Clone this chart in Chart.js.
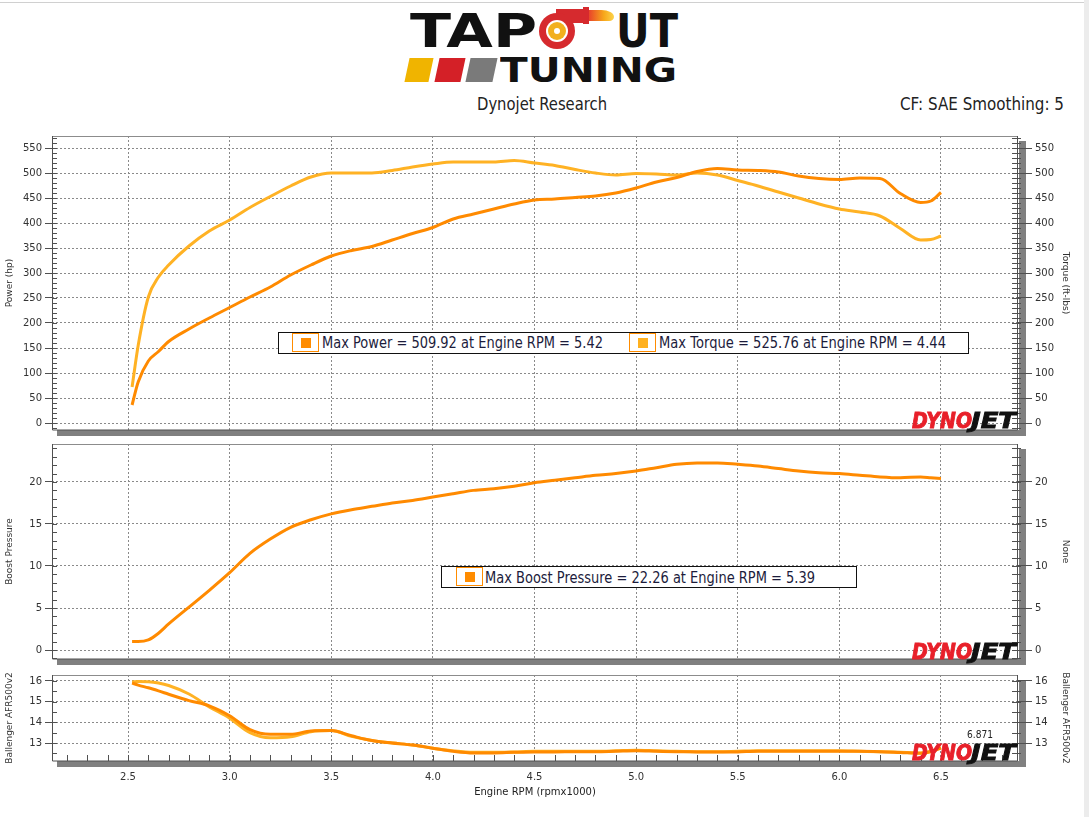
<!DOCTYPE html>
<html>
<head>
<meta charset="utf-8">
<title>Dynojet Research</title>
<script src="https://cdn.jsdelivr.net/npm/chart.js@4.4.1/dist/chart.umd.min.js"></script>
<style>
  body { margin: 0; background: #fff; width: 1089px; height: 817px; overflow: hidden; position: relative; font-family: "DejaVu Sans", sans-serif; }
  .a { position: absolute; white-space: nowrap; line-height: 1; transform-origin: 0 0; }
  .d { position: absolute; }
  canvas { position: absolute; left: 0; }
  .logo { font-weight: bold; color: #111; }
  .dj { font-weight: bold; font-style: italic; font-size: 21px; -webkit-text-stroke: 0.9px currentColor; }
  .box { position: absolute; border: 1px solid #111; background: #fff; box-sizing: border-box; }
  .sw { position: absolute; border: 1px solid #ff8c00; box-sizing: border-box; }
  .lt { font-size: 15px; color: #1c1c3c; }
</style>
</head>
<body>
<div class="d" style="left:0;top:2px;width:1089px;height:1px;background:#d0d0d0"></div>
<div class="d" style="left:1084px;top:0;width:5px;height:817px;background:#ececec"></div>

<!-- logo -->
<div class="a logo" data-w="127" style="left:410px;top:7px;font-size:47px">TAP</div>
<div class="d" style="left:556px;top:9px;width:30px;height:14px;background:#d62a2e"></div>
<div class="d" style="left:583px;top:7px;width:6px;height:17px;background:#d62a2e"></div>
<div class="d" style="left:589px;top:10px;width:25px;height:11px;background:linear-gradient(to right,#e9452a,#f7a81b 60%,#fcd34a);border-radius:0 80% 30% 0 / 0 100% 60% 0"></div>
<div class="d" style="left:539px;top:13px;width:36px;height:36px;border-radius:50%;background:#d62a2e"></div>
<div class="d" style="left:546px;top:20px;width:22px;height:22px;border-radius:50%;background:#fff"></div>
<div class="d" style="left:548px;top:22px;width:18px;height:18px;border-radius:50%;background:#f2b01e"></div>
<div class="d" style="left:554px;top:28px;width:6px;height:6px;border-radius:50%;background:#fff"></div>
<div class="a logo" data-w="62" style="left:616px;top:7px;font-size:47px">UT</div>
<div class="d" style="left:407px;top:58px;width:24px;height:24px;background:#f0b400;transform:skewX(-12deg)"></div>
<div class="d" style="left:437px;top:58px;width:26px;height:24px;background:#d42027;transform:skewX(-12deg)"></div>
<div class="d" style="left:468px;top:58px;width:27px;height:24px;background:#7a7a7a;transform:skewX(-12deg)"></div>
<div class="a logo" data-w="177" style="left:500px;top:54px;font-size:33px">TUNING</div>

<div class="a" data-w="130" style="left:477px;top:96px;font-size:17px;color:#222">Dynojet Research</div>
<div class="a" data-w="164" style="left:900px;top:96px;font-size:17px;color:#222">CF: SAE Smoothing: 5</div>

<canvas id="c1" width="1089" height="320" style="top:120px"></canvas>
<canvas id="c2" width="1089" height="225" style="top:440px"></canvas>
<canvas id="c3" width="1089" height="152" style="top:665px"></canvas>

<!-- legends -->
<div class="box" style="left:278px;top:332px;width:691px;height:22px"></div>
<div class="sw" style="left:292px;top:333px;width:27px;height:19px"><div class="d" style="left:8px;top:4px;width:10px;height:10px;background:#ff8c00"></div></div>
<div class="a lt" data-w="281" style="left:322px;top:336px">Max Power = 509.92 at Engine RPM = 5.42</div>
<div class="sw" style="left:629px;top:333px;width:27px;height:19px"><div class="d" style="left:8px;top:4px;width:10px;height:10px;background:#ffb11f"></div></div>
<div class="a lt" data-w="287" style="left:659px;top:336px">Max Torque = 525.76 at Engine RPM = 4.44</div>

<div class="box" style="left:441px;top:566px;width:416px;height:22px"></div>
<div class="sw" style="left:456px;top:567px;width:27px;height:19px"><div class="d" style="left:8px;top:4px;width:10px;height:10px;background:#ff8c00"></div></div>
<div class="a lt" data-w="330" style="left:485px;top:571px">Max Boost Pressure = 22.26 at Engine RPM = 5.39</div>

<!-- dynojet marks -->
<div class="a dj" data-w="60" style="left:912px;top:411px;color:#e8202a">DYNO</div>
<div class="a dj" data-w="45" style="left:971px;top:411px;color:#111">JET</div>
<div class="a dj" data-w="60" style="left:912px;top:642px;color:#e8202a">DYNO</div>
<div class="a dj" data-w="45" style="left:971px;top:642px;color:#111">JET</div>
<div class="a dj" data-w="60" style="left:912px;top:743px;color:#e8202a">DYNO</div>
<div class="a dj" data-w="45" style="left:971px;top:743px;color:#111">JET</div>

<div class="a" data-w="26" style="left:967px;top:729px;font-size:11px;color:#222">6.871</div>

<script>
// engine rpm (x1000), shared by all traces
const rpm = [2.52, 2.55, 2.6, 2.65, 2.7, 2.8, 2.9, 3.0, 3.1, 3.2, 3.3, 3.4, 3.5, 3.6, 3.7, 3.8, 3.9, 4.0, 4.1, 4.2, 4.3, 4.4,
             4.5, 4.6, 4.7, 4.8, 4.9, 5.0, 5.1, 5.2, 5.3, 5.4, 5.5, 5.6, 5.7, 5.8, 5.9, 6.0, 6.1, 6.2, 6.3, 6.4, 6.45, 6.5];
const powerHp = [36, 82, 124, 143, 163, 188, 210, 231, 252, 272, 296, 316, 334, 345, 353, 366, 379, 391, 408, 418, 428, 438,
                 446, 448, 451, 454, 460, 470, 482, 491, 503, 509, 506, 505, 502, 494, 489, 487, 490, 489, 459, 441, 444, 461];
const torqueFtLbs = [72, 155, 252, 292, 316, 354, 384, 406, 431, 453, 474, 492, 500, 500, 500, 505, 512, 518, 522, 522, 522, 525,
                     520, 515, 507, 500, 496, 499, 498, 496, 500, 496, 485, 474, 462, 450, 438, 428, 422, 414, 389, 366, 367, 374];
const boostPsi = [1.0, 1.0, 1.2, 2.0, 3.1, 5.1, 7.1, 9.2, 11.5, 13.2, 14.6, 15.5, 16.2, 16.7, 17.1, 17.5, 17.8, 18.2, 18.6, 19.0, 19.2, 19.5,
                  19.9, 20.2, 20.5, 20.8, 21.0, 21.3, 21.7, 22.1, 22.25, 22.26, 22.1, 21.9, 21.6, 21.3, 21.1, 21.0, 20.8, 20.6, 20.5, 20.6, 20.5, 20.4];
const afrA = [15.9, 15.8, 15.67, 15.52, 15.36, 15.05, 14.8, 14.32, 13.65, 13.42, 13.42, 13.58, 13.6, 13.35, 13.12, 13.0, 12.9, 12.75, 12.6, 12.52, 12.52, 12.55,
              12.57, 12.57, 12.58, 12.58, 12.6, 12.62, 12.6, 12.58, 12.57, 12.56, 12.57, 12.6, 12.6, 12.6, 12.6, 12.6, 12.6, 12.58, 12.54, 12.5, 12.58, 12.75];
const afrB = [15.95, 15.97, 15.96, 15.9, 15.78, 15.37, 14.75, 14.2, 13.5, 13.25, 13.3, 13.55, 13.6, 13.32, 13.12, 13.0, 12.9, 12.75, 12.62, 12.55, 12.55, 12.57,
              12.6, 12.6, 12.6, 12.6, 12.62, 12.65, 12.62, 12.6, 12.58, 12.58, 12.6, 12.62, 12.62, 12.62, 12.62, 12.62, 12.6, 12.58, 12.55, 12.52, 12.6, 12.78];

const rpmTicks = [2.5, 3.0, 3.5, 4.0, 4.5, 5.0, 5.5, 6.0, 6.5];
const powerTicks = [0, 50, 100, 150, 200, 250, 300, 350, 400, 450, 500, 550];
const boostTicks = [0, 5, 10, 15, 20];
const afrTicks = [13, 14, 15, 16];

const DARK = '#ff8a00';
const LIGHT = '#ffb224';
const FONT = 'DejaVu Sans';

const panelFrame = {
  id: 'panelFrame',
  beforeDraw(chart) {
    const { ctx, chartArea: a } = chart;
    ctx.save();
    ctx.fillStyle = '#808080';
    ctx.fillRect(a.left + 5, a.bottom, a.right - a.left + 3, 6);
    ctx.fillRect(a.right + 1, a.top + 5, 7, a.bottom - a.top);
    ctx.restore();
  },
  beforeDatasetsDraw(chart, args, opts) {
    const { ctx, chartArea: a, scales } = chart;
    ctx.save();
    ctx.lineWidth = 1;
    ctx.strokeStyle = '#8c8c8c';
    ctx.beginPath();
    ctx.moveTo(a.left, a.top + 0.5); ctx.lineTo(a.right, a.top + 0.5);
    ctx.stroke();
    ctx.strokeStyle = '#505050';
    ctx.beginPath();
    ctx.moveTo(a.left + 0.5, a.top); ctx.lineTo(a.left + 0.5, a.bottom);
    ctx.lineTo(a.right - 0.5, a.bottom); ctx.lineTo(a.right - 0.5, a.top);
    const ys = scales.y;
    for (let n = Math.ceil(ys.min / opts.yStep); n <= Math.floor(ys.max / opts.yStep); n++) {
      const p = Math.round(ys.getPixelForValue(n * opts.yStep)) + 0.5;
      ctx.moveTo(a.left, p); ctx.lineTo(a.left + 5, p);
      ctx.moveTo(a.right - 6, p); ctx.lineTo(a.right + 3, p);
    }
    if (opts.xStep) {
      const xs = scales.x;
      for (let n = Math.ceil(xs.min / opts.xStep); n <= Math.floor(xs.max / opts.xStep); n++) {
        const p = Math.round(xs.getPixelForValue(n * opts.xStep)) + 0.5;
        ctx.moveTo(p, a.bottom); ctx.lineTo(p, a.bottom - 6);
      }
    }
    ctx.stroke();
    ctx.restore();
  }
};

function line(data, color, axis) {
  return {
    data: rpm.map((x, i) => ({ x: x, y: data[i] })),
    borderColor: color, borderWidth: 3, pointRadius: 0,
    cubicInterpolationMode: 'monotone', yAxisID: axis || 'y', fill: false
  };
}

function yAxis(side, min, max, ticks, title) {
  return {
    type: 'linear', position: side, min: min, max: max,
    afterBuildTicks: s => { s.ticks = ticks.map(v => ({ value: v })); },
    afterFit: s => { s.width = side === 'left' ? 52 : 57; s.paddingTop = 0; s.paddingBottom = 0; },
    ticks: { color: '#333', padding: 3, font: { family: FONT, size: 10 } },
    grid: {
      color: '#8a8a8a', drawOnChartArea: side === 'left',
      tickColor: '#505050', tickLength: side === 'left' ? 7 : 14
    },
    border: { display: false, dash: [2, 2] },
    title: { display: true, text: title, color: '#333', padding: { top: 4, bottom: 4 }, font: { family: FONT, size: 9 } }
  };
}

function xAxis(labels) {
  return {
    type: 'linear', min: 2.126, max: 6.879,
    afterBuildTicks: s => { s.ticks = rpmTicks.map(v => ({ value: v })); },
    afterFit: s => { s.height = labels ? 41 : 0; s.paddingLeft = 0; s.paddingRight = 0; },
    ticks: { display: labels, color: '#333', padding: 10, maxRotation: 0, font: { family: FONT, size: 10 },
             callback: v => v.toFixed(1) },
    grid: { color: '#8a8a8a', drawTicks: false },
    border: { display: false, dash: [2, 2] },
    title: { display: labels, text: 'Engine RPM (rpmx1000)', color: '#222', padding: { top: 4, bottom: 4 }, font: { family: FONT, size: 10 } }
  };
}

function panel(id, datasets, y, y2, pad, minor, labels) {
  return new Chart(document.getElementById(id), {
    type: 'line',
    data: { datasets: datasets },
    options: {
      responsive: false, animation: false,
      layout: { padding: { left: 0, right: 14, top: pad[0], bottom: pad[1] } },
      plugins: { legend: { display: false }, tooltip: { enabled: false }, panelFrame: minor },
      scales: { x: xAxis(labels), y: y, y2: y2 }
    },
    plugins: [panelFrame]
  });
}

panel('c1', [line(powerHp, DARK, 'y'), line(torqueFtLbs, LIGHT, 'y2')],
  yAxis('left', -14, 574, powerTicks, 'Power (hp)'),
  yAxis('right', -14, 574, powerTicks, 'Torque (ft-lbs)'),
  [16, 10], { yStep: 10 }, false);

panel('c2', [line(boostPsi, DARK, 'y')],
  yAxis('left', -1.07, 24.52, boostTicks, 'Boost Pressure'),
  yAxis('right', -1.07, 24.52, boostTicks, 'None'),
  [4, 6], { yStep: 1 }, false);

panel('c3', [line(afrA, DARK, 'y'), line(afrB, LIGHT, 'y')],
  yAxis('left', 12.13, 16.29, afrTicks, 'Ballenger AFR500v2'),
  yAxis('right', 12.13, 16.29, afrTicks, 'Ballenger AFR500v2'),
  [10, 15], { yStep: 0.5, xStep: 0.1 }, true);

function fitText() {
  document.querySelectorAll('[data-w]').forEach(el => {
    el.style.transform = 'none';
    const w = el.getBoundingClientRect().width;
    if (w > 0) el.style.transform = 'scaleX(' + (el.dataset.w / w) + ')';
  });
}
fitText();
if (document.fonts) document.fonts.ready.then(fitText);
</script>
</body>
</html>
